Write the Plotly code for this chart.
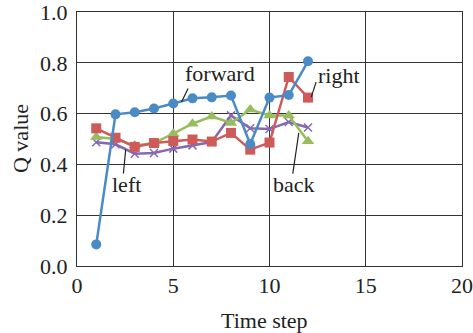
import plotly.graph_objects as go

steps = list(range(1, 13))
forward = [0.085, 0.597, 0.605, 0.620, 0.640, 0.660, 0.664, 0.671, 0.480, 0.663, 0.673, 0.806]
right = [0.542, 0.505, 0.469, 0.484, 0.492, 0.498, 0.490, 0.524, 0.458, 0.486, 0.744, 0.663]
back = [0.508, 0.500, 0.474, 0.484, 0.521, 0.560, 0.589, 0.563, 0.616, 0.593, 0.593, 0.491]
left = [0.487, 0.479, 0.442, 0.445, 0.462, 0.475, 0.488, 0.593, 0.542, 0.539, 0.567, 0.545]

x_ticks = [0, 5, 10, 15, 20]
y_ticks = [0.0, 0.2, 0.4, 0.6, 0.8, 1.0]

FONT = "Liberation Serif, Times New Roman, serif"
FS = 22
blue, red, green, purple = "#4A8BC6", "#CF5A5A", "#98BD5F", "#8569B0"

fig = go.Figure()
fig.add_trace(go.Scatter(x=steps, y=left, mode="lines+markers", name="left",
                         line=dict(color=purple, width=2.5),
                         marker=dict(symbol="x-thin", size=8, line=dict(color=purple, width=1.5))))
fig.add_trace(go.Scatter(x=steps, y=back, mode="lines+markers", name="back",
                         line=dict(color=green, width=2.5),
                         marker=dict(symbol="triangle-up", size=11, color=green)))
fig.add_trace(go.Scatter(x=steps, y=right, mode="lines+markers", name="right",
                         line=dict(color=red, width=2.5),
                         marker=dict(symbol="square", size=10, color=red)))
fig.add_trace(go.Scatter(x=steps, y=forward, mode="lines+markers", name="forward",
                         line=dict(color=blue, width=2.5),
                         marker=dict(symbol="circle", size=10, color=blue)))

labels = [
    ("forward", 7.42, 0.757, (5.43, 0.646), (5.77, 0.699)),
    ("right", 13.62, 0.749, (12.17, 0.665), (12.42, 0.724)),
    ("left", 2.59, 0.322, (2.53, 0.458), (2.41, 0.364)),
    ("back", 11.29, 0.322, (11.52, 0.524), (11.21, 0.364)),
]
for text, tx, ty, p0, p1 in labels:
    fig.add_annotation(x=tx, y=ty, text=text, showarrow=False,
                       font=dict(family=FONT, size=FS, color="#222"))
    fig.add_shape(type="line", x0=p0[0], y0=p0[1], x1=p1[0], y1=p1[1],
                  line=dict(color="#222", width=1.2))

# axis titles
fig.add_annotation(xref="paper", yref="paper", x=0.488, y=-0.215, text="Time step",
                   showarrow=False, xanchor="center", yanchor="middle",
                   font=dict(family=FONT, size=FS, color="#222"))
fig.add_annotation(xref="paper", yref="paper", x=-0.148, y=0.5, text="Q value",
                   showarrow=False, xanchor="center", yanchor="middle", textangle=-90,
                   font=dict(family=FONT, size=FS, color="#222"))

fig.update_layout(
    width=473, height=333,
    margin=dict(l=77, r=11, t=12, b=67, autoexpand=False),
    paper_bgcolor="white", plot_bgcolor="white",
    showlegend=False,
    font=dict(family=FONT, size=FS, color="#222"),
)
fig.update_xaxes(range=[0, 20], tickvals=x_ticks, ticktext=[str(v) for v in x_ticks],
                 showgrid=True, gridcolor="#333", gridwidth=1,
                 showline=True, linecolor="#333", linewidth=1, mirror=True,
                 zeroline=False, ticks="", automargin=False, ticklabeloverflow="allow",
                 tickfont=dict(size=FS))
fig.update_yaxes(range=[0, 1.0], tickvals=y_ticks, ticktext=[f"{v:.1f}" for v in y_ticks],
                 showgrid=True, gridcolor="#333", gridwidth=1,
                 showline=True, linecolor="#333", linewidth=1, mirror=True,
                 zeroline=False, ticks="", automargin=False, ticklabelstandoff=4,
                 ticklabeloverflow="allow",
                 tickfont=dict(size=FS))

fig.write_html("out.html", config={"displayModeBar": False},
               post_script="document.body.style.margin='0px';")
